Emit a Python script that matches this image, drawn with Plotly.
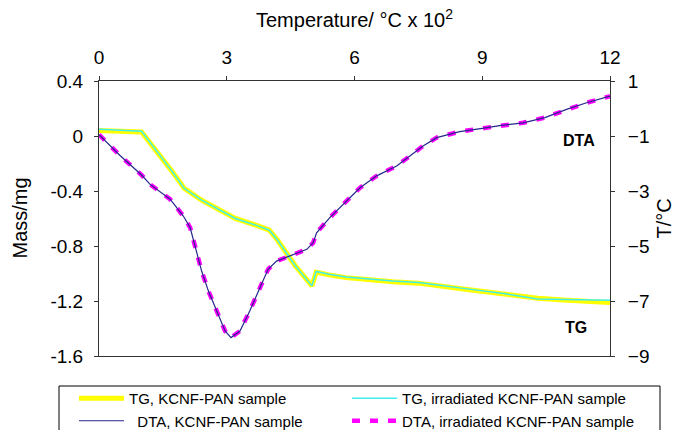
import plotly.graph_objects as go

# ---------------- data ----------------
# TG curves: temperature (x 10^2 °C) vs mass (mg)
tg_temp = [0, 1.0, 1.7, 2.0, 2.4, 2.8, 3.2, 3.7, 4.0, 4.2, 4.6, 5.0, 5.1, 5.4,
           5.8, 6.9, 7.5, 8.6, 9.5, 10.3, 11.0, 12.0]
tg_kcnf = [0.04, 0.03, -0.25, -0.38, -0.465, -0.53, -0.60, -0.65, -0.685, -0.76,
           -0.94, -1.09, -0.99, -1.01, -1.03, -1.06, -1.07, -1.115, -1.15, -1.18,
           -1.195, -1.21]
tg_irr = [0.05, 0.035, -0.25, -0.38, -0.465, -0.53, -0.60, -0.65, -0.685, -0.76,
          -0.94, -1.09, -0.985, -1.005, -1.025, -1.055, -1.065, -1.11, -1.145,
          -1.185, -1.19, -1.195]

# DTA curves: temperature (x 10^2 °C) vs T (°C)
dta_temp = [0, 0.5, 1.0, 1.2, 1.67, 1.98, 2.14, 2.25, 2.41, 2.57, 2.76, 2.96, 3.10,
            3.31, 3.54, 3.78, 3.97, 4.17, 4.48, 4.88, 5.03, 5.11, 5.42, 5.66, 6.13,
            6.52, 6.99, 7.30, 7.61, 7.93, 8.47, 9.0, 9.41, 9.96, 10.47, 10.98,
            11.45, 12.0]
dta_kcnf = [-0.95, -1.72, -2.42, -2.76, -3.30, -3.91, -4.33, -4.94, -5.91, -6.64,
            -7.36, -8.09, -8.33, -8.09, -7.36, -6.52, -5.85, -5.55, -5.36, -5.12,
            -4.88, -4.52, -3.97, -3.61, -2.88, -2.45, -2.09, -1.73, -1.36, -1.06,
            -0.84, -0.72, -0.62, -0.52, -0.33, -0.03, 0.21, 0.45]
dta_irr = [-0.95, -1.72, -2.42, -2.76, -3.30, -3.91, -4.33, -4.94, -5.91, -6.64,
           -7.36, -8.09, -8.33, -8.09, -7.36, -6.52, -5.85, -5.55, -5.36, -5.12,
           -4.88, -4.52, -3.97, -3.61, -2.88, -2.45, -2.09, -1.73, -1.36, -1.06,
           -0.84, -0.72, -0.62, -0.52, -0.33, -0.03, 0.21, 0.45]

x_ticks = [0, 3, 6, 9, 12]
mass_ticks = [0.4, 0, -0.4, -0.8, -1.2, -1.6]
mass_labels = ["0.4", "0", "-0.4", "-0.8", "-1.2", "-1.6"]
t_ticks = [1, -1, -3, -5, -7, -9]

names = ["TG, KCNF-PAN sample", "TG, irradiated KCNF-PAN sample",
         "\u00a0\u00a0DTA, KCNF-PAN sample", "DTA, irradiated KCNF-PAN sample"]

# ---------------- figure ----------------
FONT = "Liberation Sans, Arial, sans-serif"
fig = go.Figure()

fig.add_trace(go.Scatter(x=tg_temp, y=tg_kcnf, mode="lines", name=names[0],
                         line=dict(color="#ffff00", width=5),
                         legend="legend", legendrank=1))
fig.add_trace(go.Scatter(x=tg_temp, y=tg_irr, mode="lines", name=names[1],
                         line=dict(color="#40eeee", width=1.5),
                         legend="legend2", legendrank=1))
fig.add_trace(go.Scatter(x=dta_temp, y=dta_irr, mode="lines", name=names[3],
                         yaxis="y2",
                         line=dict(color="#ff00ff", width=4.5, dash="8px,10px"),
                         legend="legend2", legendrank=2))
fig.add_trace(go.Scatter(x=dta_temp, y=dta_kcnf, mode="lines", name=names[2],
                         yaxis="y2",
                         line=dict(color="#26268f", width=1.2),
                         legend="legend", legendrank=2))

axis_line = "#333333"
leg_common = dict(orientation="h", xref="container", yref="container",
                  xanchor="left", yanchor="top", bgcolor="rgba(0,0,0,0)",
                  borderwidth=0, font=dict(family=FONT, size=15, color="black"),
                  itemwidth=45, entrywidth=270, traceorder="normal")

fig.update_layout(
    width=679, height=430, autosize=False,
    margin=dict(l=99, r=69, t=81, b=74, pad=0),
    paper_bgcolor="white", plot_bgcolor="white",
    font=dict(family=FONT, size=19, color="black"),
    showlegend=True,
    xaxis=dict(range=[0, 12], side="top", tickmode="array", tickvals=x_ticks,
               ticks="outside", ticklen=4, tickcolor=axis_line,
               showline=True, linecolor=axis_line, linewidth=1, mirror=True,
               showgrid=False, zeroline=False, ticklabelstandoff=4,
               tickfont=dict(size=19)),
    yaxis=dict(range=[-1.6, 0.4], tickmode="array", tickvals=mass_ticks,
               ticktext=mass_labels, ticks="outside", ticklen=4,
               tickcolor=axis_line, showline=True, linecolor=axis_line,
               linewidth=1, showgrid=False, zeroline=False,
               ticklabelstandoff=7, tickfont=dict(size=19)),
    yaxis2=dict(range=[-9, 1], overlaying="y", side="right", tickmode="array",
                tickvals=t_ticks, ticks="outside", ticklen=4,
                tickcolor=axis_line, showline=True, linecolor=axis_line,
                linewidth=1, showgrid=False, zeroline=False,
                ticklabelstandoff=9, tickfont=dict(size=19)),
    legend=dict(leg_common, x=74 / 679, y=1 - 382 / 430),
    legend2=dict(leg_common, x=347 / 679, y=1 - 382 / 430),
)

# axis titles
fig.add_annotation(text="Temperature/ °C x 10<sup>2</sup>", xref="paper",
                   yref="paper", x=0.5, y=(356 - 18) / 275, showarrow=False,
                   font=dict(size=20), xanchor="center", yanchor="middle")
fig.add_annotation(text="Mass/mg", xref="paper", yref="paper",
                   x=(19 - 99) / 511, y=0.5, textangle=-90, showarrow=False,
                   font=dict(size=20), xanchor="center", yanchor="middle")
fig.add_annotation(text="T/°C", xref="paper", yref="paper",
                   x=(663 - 99) / 511, y=0.5, textangle=-90, showarrow=False,
                   font=dict(size=20), xanchor="center", yanchor="middle")

# curve labels
lab_font = dict(family="Liberation Sans, Arial, sans-serif",
                size=16, color="black", weight="bold")
fig.add_annotation(text="DTA", x=11.27, y=-0.03, xref="x", yref="y",
                   showarrow=False, font=lab_font)
fig.add_annotation(text="TG", x=11.2, y=-1.39, xref="x", yref="y",
                   showarrow=False, font=lab_font)

# legend frame
fig.add_shape(type="rect", xref="paper", yref="paper",
              x0=(59 - 99) / 511, x1=(660 - 99) / 511,
              y0=(356 - 386) / 275, y1=(356 - 445) / 275,
              line=dict(color="black", width=1), fillcolor="rgba(0,0,0,0)",
              layer="below")

fig.write_html("out.html")
